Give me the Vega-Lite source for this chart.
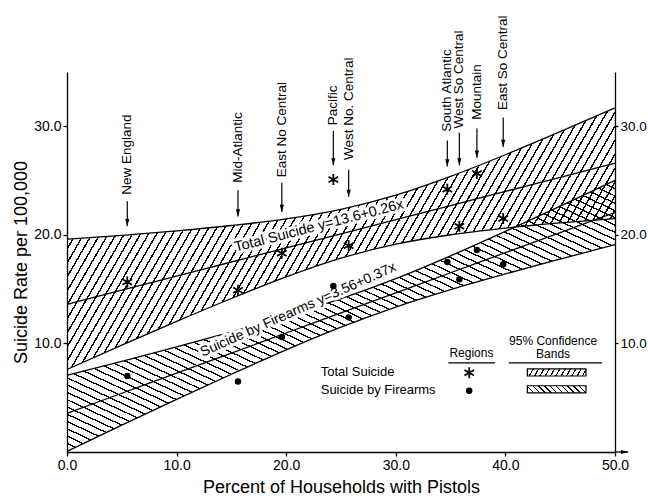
{
  "$schema": "https://vega.github.io/schema/vega-lite/v6.json",
  "width": 548,
  "height": 380,
  "autosize": {"type": "none"},
  "padding": {"left": 67, "top": 72, "right": 33, "bottom": 47},
  "background": "white",
  "config": {
    "view": {"stroke": null},
    "font": "Liberation Sans",
    "axis": {"grid": false, "domainColor": "#000", "tickColor": "#000", "labelColor": "#000", "titleColor": "#000", "labelFont": "Liberation Sans", "titleFont": "Liberation Sans", "labelFontSize": 14, "titleFontSize": 18, "titleFontWeight": "normal", "domainWidth": 1.3, "tickWidth": 1.3}
  },
  "resolve": {"axis": {"x": "independent", "y": "independent"}},
  "datasets": {
    "bands": [
      {"x": 0, "tlo": 7.6, "thi": 19.6, "tfit": 13.6, "flo": 0.06, "fhi": 7.06, "ffit": 3.56},
      {"x": 5, "tlo": 9.84, "thi": 19.96, "tfit": 14.9, "flo": 2.48, "fhi": 8.34, "ffit": 5.41},
      {"x": 10, "tlo": 12.03, "thi": 20.37, "tfit": 16.2, "flo": 4.84, "fhi": 9.68, "ffit": 7.26},
      {"x": 15, "tlo": 14.14, "thi": 20.86, "tfit": 17.5, "flo": 7.16, "fhi": 11.06, "ffit": 9.11},
      {"x": 20, "tlo": 16.13, "thi": 21.47, "tfit": 18.8, "flo": 9.41, "fhi": 12.51, "ffit": 10.96},
      {"x": 25, "tlo": 17.85, "thi": 22.35, "tfit": 20.1, "flo": 11.5, "fhi": 14.12, "ffit": 12.81},
      {"x": 30, "tlo": 19.14, "thi": 23.66, "tfit": 21.4, "flo": 13.35, "fhi": 15.97, "ffit": 14.66},
      {"x": 35, "tlo": 20.01, "thi": 25.39, "tfit": 22.7, "flo": 14.95, "fhi": 18.07, "ffit": 16.51},
      {"x": 40, "tlo": 20.62, "thi": 27.38, "tfit": 24.0, "flo": 16.4, "fhi": 20.32, "ffit": 18.36},
      {"x": 45, "tlo": 21.1, "thi": 29.5, "tfit": 25.3, "flo": 17.77, "fhi": 22.65, "ffit": 20.21},
      {"x": 50, "tlo": 21.5, "thi": 31.7, "tfit": 26.6, "flo": 19.1, "fhi": 25.02, "ffit": 22.06}
    ],
    "regions": [
      {"region": "New England", "x": 5.5, "ts": 15.66, "fs": 7.0, "ly": 23.7, "at": 23.1, "tip": 20.8},
      {"region": "Mid-Atlantic", "x": 15.6, "ts": 14.9, "fs": 6.5, "ly": 24.8, "at": 24.1, "tip": 21.7},
      {"region": "East No Central", "x": 19.6, "ts": 18.3, "fs": 10.6, "ly": 25.3, "at": 24.8, "tip": 22.1},
      {"region": "Pacific", "x": 24.3, "ts": 25.1, "fs": 15.3, "ly": 30.1, "at": 29.6, "tip": 26.4},
      {"region": "West No. Central", "x": 25.7, "ts": 19.0, "fs": 12.4, "ly": 26.9, "at": 26.0, "tip": 23.5},
      {"region": "South Atlantic", "x": 34.7, "ts": 24.2, "fs": 17.5, "ly": 29.5, "at": 28.7, "tip": 26.3},
      {"region": "West So Central", "x": 35.8, "ts": 20.8, "fs": 15.9, "ly": 29.8, "at": 29.4, "tip": 26.4},
      {"region": "Mountain", "x": 37.4, "ts": 25.65, "fs": 18.6, "ly": 30.6, "at": 29.8, "tip": 27.1},
      {"region": "East So Central", "x": 39.8, "ts": 21.5, "fs": 17.3, "ly": 31.5, "at": 30.8, "tip": 28.1}
    ],
    "fitlab": [
      {"s": "t", "label": "Total Suicide  y=13.6+0.26x", "x": 23.0, "y": 20.8},
      {"s": "f", "label": "Suicide by Firearms  y=3.56+0.37x", "x": 21.1, "y": 13.1}
    ],
    "legleft": [
      {"t": "Total Suicide", "x": 23.15, "y": 7.4},
      {"t": "Suicide by Firearms", "x": 23.15, "y": 5.7}
    ],
    "legcenter": [
      {"t": "Regions", "x": 36.9, "y": 9.1},
      {"t": "95% Confidence", "x": 44.35, "y": 10.25},
      {"t": "Bands", "x": 44.35, "y": 9.0}
    ],
    "legrule": [
      {"x": 34.8, "x2": 39.05, "y": 8.2},
      {"x": 40.3, "x2": 48.8, "y": 8.2}
    ],
    "legpts": [
      {"k": "t", "x": 36.7, "y": 7.3},
      {"k": "f", "x": 36.7, "y": 5.65}
    ],
    "swatch": [
      {"s": "t", "x": 42.0, "x2": 47.35, "y": 7.0, "y2": 7.65},
      {"s": "f", "x": 42.0, "x2": 47.35, "y": 5.45, "y2": 6.1}
    ],
    "xarrow": [
      {"x": 50, "x2": 51.2, "y": 0}
    ]
  },
  "layer": [
    {
      "data": {"name": "bands"},
      "mark": {"type": "area", "interpolate": "monotone", "stroke": null,
        "fill": {"gradient": "linear", "x1": 0, "y1": 0, "x2": 1.0967, "y2": 0.3024, "stops": [
{"offset":0,"color":"#000"},{"offset":0.0025,"color":"#000"},{"offset":0.0025,"color":"transparent"},{"offset":0.0125,"color":"transparent"},
{"offset":0.0125,"color":"#000"},{"offset":0.015,"color":"#000"},{"offset":0.015,"color":"transparent"},{"offset":0.025,"color":"transparent"},
{"offset":0.025,"color":"#000"},{"offset":0.0275,"color":"#000"},{"offset":0.0275,"color":"transparent"},{"offset":0.0375,"color":"transparent"},
{"offset":0.0375,"color":"#000"},{"offset":0.04,"color":"#000"},{"offset":0.04,"color":"transparent"},{"offset":0.05,"color":"transparent"},
{"offset":0.05,"color":"#000"},{"offset":0.0525,"color":"#000"},{"offset":0.0525,"color":"transparent"},{"offset":0.0625,"color":"transparent"},
{"offset":0.0625,"color":"#000"},{"offset":0.065,"color":"#000"},{"offset":0.065,"color":"transparent"},{"offset":0.075,"color":"transparent"},
{"offset":0.075,"color":"#000"},{"offset":0.0775,"color":"#000"},{"offset":0.0775,"color":"transparent"},{"offset":0.0875,"color":"transparent"},
{"offset":0.0875,"color":"#000"},{"offset":0.09,"color":"#000"},{"offset":0.09,"color":"transparent"},{"offset":0.1,"color":"transparent"},
{"offset":0.1,"color":"#000"},{"offset":0.1025,"color":"#000"},{"offset":0.1025,"color":"transparent"},{"offset":0.1125,"color":"transparent"},
{"offset":0.1125,"color":"#000"},{"offset":0.115,"color":"#000"},{"offset":0.115,"color":"transparent"},{"offset":0.125,"color":"transparent"},
{"offset":0.125,"color":"#000"},{"offset":0.1275,"color":"#000"},{"offset":0.1275,"color":"transparent"},{"offset":0.1375,"color":"transparent"},
{"offset":0.1375,"color":"#000"},{"offset":0.14,"color":"#000"},{"offset":0.14,"color":"transparent"},{"offset":0.15,"color":"transparent"},
{"offset":0.15,"color":"#000"},{"offset":0.1525,"color":"#000"},{"offset":0.1525,"color":"transparent"},{"offset":0.1625,"color":"transparent"},
{"offset":0.1625,"color":"#000"},{"offset":0.165,"color":"#000"},{"offset":0.165,"color":"transparent"},{"offset":0.175,"color":"transparent"},
{"offset":0.175,"color":"#000"},{"offset":0.1775,"color":"#000"},{"offset":0.1775,"color":"transparent"},{"offset":0.1875,"color":"transparent"},
{"offset":0.1875,"color":"#000"},{"offset":0.19,"color":"#000"},{"offset":0.19,"color":"transparent"},{"offset":0.2,"color":"transparent"},
{"offset":0.2,"color":"#000"},{"offset":0.2025,"color":"#000"},{"offset":0.2025,"color":"transparent"},{"offset":0.2125,"color":"transparent"},
{"offset":0.2125,"color":"#000"},{"offset":0.215,"color":"#000"},{"offset":0.215,"color":"transparent"},{"offset":0.225,"color":"transparent"},
{"offset":0.225,"color":"#000"},{"offset":0.2275,"color":"#000"},{"offset":0.2275,"color":"transparent"},{"offset":0.2375,"color":"transparent"},
{"offset":0.2375,"color":"#000"},{"offset":0.24,"color":"#000"},{"offset":0.24,"color":"transparent"},{"offset":0.25,"color":"transparent"},
{"offset":0.25,"color":"#000"},{"offset":0.2525,"color":"#000"},{"offset":0.2525,"color":"transparent"},{"offset":0.2625,"color":"transparent"},
{"offset":0.2625,"color":"#000"},{"offset":0.265,"color":"#000"},{"offset":0.265,"color":"transparent"},{"offset":0.275,"color":"transparent"},
{"offset":0.275,"color":"#000"},{"offset":0.2775,"color":"#000"},{"offset":0.2775,"color":"transparent"},{"offset":0.2875,"color":"transparent"},
{"offset":0.2875,"color":"#000"},{"offset":0.29,"color":"#000"},{"offset":0.29,"color":"transparent"},{"offset":0.3,"color":"transparent"},
{"offset":0.3,"color":"#000"},{"offset":0.3025,"color":"#000"},{"offset":0.3025,"color":"transparent"},{"offset":0.3125,"color":"transparent"},
{"offset":0.3125,"color":"#000"},{"offset":0.315,"color":"#000"},{"offset":0.315,"color":"transparent"},{"offset":0.325,"color":"transparent"},
{"offset":0.325,"color":"#000"},{"offset":0.3275,"color":"#000"},{"offset":0.3275,"color":"transparent"},{"offset":0.3375,"color":"transparent"},
{"offset":0.3375,"color":"#000"},{"offset":0.34,"color":"#000"},{"offset":0.34,"color":"transparent"},{"offset":0.35,"color":"transparent"},
{"offset":0.35,"color":"#000"},{"offset":0.3525,"color":"#000"},{"offset":0.3525,"color":"transparent"},{"offset":0.3625,"color":"transparent"},
{"offset":0.3625,"color":"#000"},{"offset":0.365,"color":"#000"},{"offset":0.365,"color":"transparent"},{"offset":0.375,"color":"transparent"},
{"offset":0.375,"color":"#000"},{"offset":0.3775,"color":"#000"},{"offset":0.3775,"color":"transparent"},{"offset":0.3875,"color":"transparent"},
{"offset":0.3875,"color":"#000"},{"offset":0.39,"color":"#000"},{"offset":0.39,"color":"transparent"},{"offset":0.4,"color":"transparent"},
{"offset":0.4,"color":"#000"},{"offset":0.4025,"color":"#000"},{"offset":0.4025,"color":"transparent"},{"offset":0.4125,"color":"transparent"},
{"offset":0.4125,"color":"#000"},{"offset":0.415,"color":"#000"},{"offset":0.415,"color":"transparent"},{"offset":0.425,"color":"transparent"},
{"offset":0.425,"color":"#000"},{"offset":0.4275,"color":"#000"},{"offset":0.4275,"color":"transparent"},{"offset":0.4375,"color":"transparent"},
{"offset":0.4375,"color":"#000"},{"offset":0.44,"color":"#000"},{"offset":0.44,"color":"transparent"},{"offset":0.45,"color":"transparent"},
{"offset":0.45,"color":"#000"},{"offset":0.4525,"color":"#000"},{"offset":0.4525,"color":"transparent"},{"offset":0.4625,"color":"transparent"},
{"offset":0.4625,"color":"#000"},{"offset":0.465,"color":"#000"},{"offset":0.465,"color":"transparent"},{"offset":0.475,"color":"transparent"},
{"offset":0.475,"color":"#000"},{"offset":0.4775,"color":"#000"},{"offset":0.4775,"color":"transparent"},{"offset":0.4875,"color":"transparent"},
{"offset":0.4875,"color":"#000"},{"offset":0.49,"color":"#000"},{"offset":0.49,"color":"transparent"},{"offset":0.5,"color":"transparent"},
{"offset":0.5,"color":"#000"},{"offset":0.5025,"color":"#000"},{"offset":0.5025,"color":"transparent"},{"offset":0.5125,"color":"transparent"},
{"offset":0.5125,"color":"#000"},{"offset":0.515,"color":"#000"},{"offset":0.515,"color":"transparent"},{"offset":0.525,"color":"transparent"},
{"offset":0.525,"color":"#000"},{"offset":0.5275,"color":"#000"},{"offset":0.5275,"color":"transparent"},{"offset":0.5375,"color":"transparent"},
{"offset":0.5375,"color":"#000"},{"offset":0.54,"color":"#000"},{"offset":0.54,"color":"transparent"},{"offset":0.55,"color":"transparent"},
{"offset":0.55,"color":"#000"},{"offset":0.5525,"color":"#000"},{"offset":0.5525,"color":"transparent"},{"offset":0.5625,"color":"transparent"},
{"offset":0.5625,"color":"#000"},{"offset":0.565,"color":"#000"},{"offset":0.565,"color":"transparent"},{"offset":0.575,"color":"transparent"},
{"offset":0.575,"color":"#000"},{"offset":0.5775,"color":"#000"},{"offset":0.5775,"color":"transparent"},{"offset":0.5875,"color":"transparent"},
{"offset":0.5875,"color":"#000"},{"offset":0.59,"color":"#000"},{"offset":0.59,"color":"transparent"},{"offset":0.6,"color":"transparent"},
{"offset":0.6,"color":"#000"},{"offset":0.6025,"color":"#000"},{"offset":0.6025,"color":"transparent"},{"offset":0.6125,"color":"transparent"},
{"offset":0.6125,"color":"#000"},{"offset":0.615,"color":"#000"},{"offset":0.615,"color":"transparent"},{"offset":0.625,"color":"transparent"},
{"offset":0.625,"color":"#000"},{"offset":0.6275,"color":"#000"},{"offset":0.6275,"color":"transparent"},{"offset":0.6375,"color":"transparent"},
{"offset":0.6375,"color":"#000"},{"offset":0.64,"color":"#000"},{"offset":0.64,"color":"transparent"},{"offset":0.65,"color":"transparent"},
{"offset":0.65,"color":"#000"},{"offset":0.6525,"color":"#000"},{"offset":0.6525,"color":"transparent"},{"offset":0.6625,"color":"transparent"},
{"offset":0.6625,"color":"#000"},{"offset":0.665,"color":"#000"},{"offset":0.665,"color":"transparent"},{"offset":0.675,"color":"transparent"},
{"offset":0.675,"color":"#000"},{"offset":0.6775,"color":"#000"},{"offset":0.6775,"color":"transparent"},{"offset":0.6875,"color":"transparent"},
{"offset":0.6875,"color":"#000"},{"offset":0.69,"color":"#000"},{"offset":0.69,"color":"transparent"},{"offset":0.7,"color":"transparent"},
{"offset":0.7,"color":"#000"},{"offset":0.7025,"color":"#000"},{"offset":0.7025,"color":"transparent"},{"offset":0.7125,"color":"transparent"},
{"offset":0.7125,"color":"#000"},{"offset":0.715,"color":"#000"},{"offset":0.715,"color":"transparent"},{"offset":0.725,"color":"transparent"},
{"offset":0.725,"color":"#000"},{"offset":0.7275,"color":"#000"},{"offset":0.7275,"color":"transparent"},{"offset":0.7375,"color":"transparent"},
{"offset":0.7375,"color":"#000"},{"offset":0.74,"color":"#000"},{"offset":0.74,"color":"transparent"},{"offset":0.75,"color":"transparent"},
{"offset":0.75,"color":"#000"},{"offset":0.7525,"color":"#000"},{"offset":0.7525,"color":"transparent"},{"offset":0.7625,"color":"transparent"},
{"offset":0.7625,"color":"#000"},{"offset":0.765,"color":"#000"},{"offset":0.765,"color":"transparent"},{"offset":0.775,"color":"transparent"},
{"offset":0.775,"color":"#000"},{"offset":0.7775,"color":"#000"},{"offset":0.7775,"color":"transparent"},{"offset":0.7875,"color":"transparent"},
{"offset":0.7875,"color":"#000"},{"offset":0.79,"color":"#000"},{"offset":0.79,"color":"transparent"},{"offset":0.8,"color":"transparent"},
{"offset":0.8,"color":"#000"},{"offset":0.8025,"color":"#000"},{"offset":0.8025,"color":"transparent"},{"offset":0.8125,"color":"transparent"},
{"offset":0.8125,"color":"#000"},{"offset":0.815,"color":"#000"},{"offset":0.815,"color":"transparent"},{"offset":0.825,"color":"transparent"},
{"offset":0.825,"color":"#000"},{"offset":0.8275,"color":"#000"},{"offset":0.8275,"color":"transparent"},{"offset":0.8375,"color":"transparent"},
{"offset":0.8375,"color":"#000"},{"offset":0.84,"color":"#000"},{"offset":0.84,"color":"transparent"},{"offset":0.85,"color":"transparent"},
{"offset":0.85,"color":"#000"},{"offset":0.8525,"color":"#000"},{"offset":0.8525,"color":"transparent"},{"offset":0.8625,"color":"transparent"},
{"offset":0.8625,"color":"#000"},{"offset":0.865,"color":"#000"},{"offset":0.865,"color":"transparent"},{"offset":0.875,"color":"transparent"},
{"offset":0.875,"color":"#000"},{"offset":0.8775,"color":"#000"},{"offset":0.8775,"color":"transparent"},{"offset":0.8875,"color":"transparent"},
{"offset":0.8875,"color":"#000"},{"offset":0.89,"color":"#000"},{"offset":0.89,"color":"transparent"},{"offset":0.9,"color":"transparent"},
{"offset":0.9,"color":"#000"},{"offset":0.9025,"color":"#000"},{"offset":0.9025,"color":"transparent"},{"offset":0.9125,"color":"transparent"},
{"offset":0.9125,"color":"#000"},{"offset":0.915,"color":"#000"},{"offset":0.915,"color":"transparent"},{"offset":0.925,"color":"transparent"},
{"offset":0.925,"color":"#000"},{"offset":0.9275,"color":"#000"},{"offset":0.9275,"color":"transparent"},{"offset":0.9375,"color":"transparent"},
{"offset":0.9375,"color":"#000"},{"offset":0.94,"color":"#000"},{"offset":0.94,"color":"transparent"},{"offset":0.95,"color":"transparent"},
{"offset":0.95,"color":"#000"},{"offset":0.9525,"color":"#000"},{"offset":0.9525,"color":"transparent"},{"offset":0.9625,"color":"transparent"},
{"offset":0.9625,"color":"#000"},{"offset":0.965,"color":"#000"},{"offset":0.965,"color":"transparent"},{"offset":0.975,"color":"transparent"},
{"offset":0.975,"color":"#000"},{"offset":0.9775,"color":"#000"},{"offset":0.9775,"color":"transparent"},{"offset":0.9875,"color":"transparent"},
{"offset":0.9875,"color":"#000"},{"offset":0.99,"color":"#000"},{"offset":0.99,"color":"transparent"},{"offset":1,"color":"transparent"}
        ]}},
      "encoding": {
        "x": {"field": "x", "type": "quantitative", "scale": {"domain": [0, 50], "nice": false, "zero": false},
          "axis": {"orient": "bottom", "values": [0, 10, 20, 30, 40, 50], "format": ".1f", "title": "Percent of Households with Pistols", "tickSize": 4, "labelPadding": 2, "titlePadding": 6, "labelFlush": false, "labelOverlap": false}},
        "y": {"field": "tlo", "type": "quantitative", "scale": {"domain": [0, 35], "nice": false, "zero": false},
          "axis": {"orient": "left", "values": [10, 20, 30], "format": ".1f", "title": "Suicide Rate per 100,000", "tickSize": 4, "labelPadding": 2, "titlePadding": 3}},
        "y2": {"field": "thi"}
      }
    },
    {
      "data": {"name": "bands"},
      "mark": {"type": "area", "interpolate": "monotone", "stroke": null,
        "fill": {"gradient": "linear", "x1": 0, "y1": 1, "x2": 1.074, "y2": -0.139, "stops": [
{"offset":0,"color":"#000"},{"offset":0.0025,"color":"#000"},{"offset":0.0025,"color":"transparent"},{"offset":0.0125,"color":"transparent"},
{"offset":0.0125,"color":"#000"},{"offset":0.015,"color":"#000"},{"offset":0.015,"color":"transparent"},{"offset":0.025,"color":"transparent"},
{"offset":0.025,"color":"#000"},{"offset":0.0275,"color":"#000"},{"offset":0.0275,"color":"transparent"},{"offset":0.0375,"color":"transparent"},
{"offset":0.0375,"color":"#000"},{"offset":0.04,"color":"#000"},{"offset":0.04,"color":"transparent"},{"offset":0.05,"color":"transparent"},
{"offset":0.05,"color":"#000"},{"offset":0.0525,"color":"#000"},{"offset":0.0525,"color":"transparent"},{"offset":0.0625,"color":"transparent"},
{"offset":0.0625,"color":"#000"},{"offset":0.065,"color":"#000"},{"offset":0.065,"color":"transparent"},{"offset":0.075,"color":"transparent"},
{"offset":0.075,"color":"#000"},{"offset":0.0775,"color":"#000"},{"offset":0.0775,"color":"transparent"},{"offset":0.0875,"color":"transparent"},
{"offset":0.0875,"color":"#000"},{"offset":0.09,"color":"#000"},{"offset":0.09,"color":"transparent"},{"offset":0.1,"color":"transparent"},
{"offset":0.1,"color":"#000"},{"offset":0.1025,"color":"#000"},{"offset":0.1025,"color":"transparent"},{"offset":0.1125,"color":"transparent"},
{"offset":0.1125,"color":"#000"},{"offset":0.115,"color":"#000"},{"offset":0.115,"color":"transparent"},{"offset":0.125,"color":"transparent"},
{"offset":0.125,"color":"#000"},{"offset":0.1275,"color":"#000"},{"offset":0.1275,"color":"transparent"},{"offset":0.1375,"color":"transparent"},
{"offset":0.1375,"color":"#000"},{"offset":0.14,"color":"#000"},{"offset":0.14,"color":"transparent"},{"offset":0.15,"color":"transparent"},
{"offset":0.15,"color":"#000"},{"offset":0.1525,"color":"#000"},{"offset":0.1525,"color":"transparent"},{"offset":0.1625,"color":"transparent"},
{"offset":0.1625,"color":"#000"},{"offset":0.165,"color":"#000"},{"offset":0.165,"color":"transparent"},{"offset":0.175,"color":"transparent"},
{"offset":0.175,"color":"#000"},{"offset":0.1775,"color":"#000"},{"offset":0.1775,"color":"transparent"},{"offset":0.1875,"color":"transparent"},
{"offset":0.1875,"color":"#000"},{"offset":0.19,"color":"#000"},{"offset":0.19,"color":"transparent"},{"offset":0.2,"color":"transparent"},
{"offset":0.2,"color":"#000"},{"offset":0.2025,"color":"#000"},{"offset":0.2025,"color":"transparent"},{"offset":0.2125,"color":"transparent"},
{"offset":0.2125,"color":"#000"},{"offset":0.215,"color":"#000"},{"offset":0.215,"color":"transparent"},{"offset":0.225,"color":"transparent"},
{"offset":0.225,"color":"#000"},{"offset":0.2275,"color":"#000"},{"offset":0.2275,"color":"transparent"},{"offset":0.2375,"color":"transparent"},
{"offset":0.2375,"color":"#000"},{"offset":0.24,"color":"#000"},{"offset":0.24,"color":"transparent"},{"offset":0.25,"color":"transparent"},
{"offset":0.25,"color":"#000"},{"offset":0.2525,"color":"#000"},{"offset":0.2525,"color":"transparent"},{"offset":0.2625,"color":"transparent"},
{"offset":0.2625,"color":"#000"},{"offset":0.265,"color":"#000"},{"offset":0.265,"color":"transparent"},{"offset":0.275,"color":"transparent"},
{"offset":0.275,"color":"#000"},{"offset":0.2775,"color":"#000"},{"offset":0.2775,"color":"transparent"},{"offset":0.2875,"color":"transparent"},
{"offset":0.2875,"color":"#000"},{"offset":0.29,"color":"#000"},{"offset":0.29,"color":"transparent"},{"offset":0.3,"color":"transparent"},
{"offset":0.3,"color":"#000"},{"offset":0.3025,"color":"#000"},{"offset":0.3025,"color":"transparent"},{"offset":0.3125,"color":"transparent"},
{"offset":0.3125,"color":"#000"},{"offset":0.315,"color":"#000"},{"offset":0.315,"color":"transparent"},{"offset":0.325,"color":"transparent"},
{"offset":0.325,"color":"#000"},{"offset":0.3275,"color":"#000"},{"offset":0.3275,"color":"transparent"},{"offset":0.3375,"color":"transparent"},
{"offset":0.3375,"color":"#000"},{"offset":0.34,"color":"#000"},{"offset":0.34,"color":"transparent"},{"offset":0.35,"color":"transparent"},
{"offset":0.35,"color":"#000"},{"offset":0.3525,"color":"#000"},{"offset":0.3525,"color":"transparent"},{"offset":0.3625,"color":"transparent"},
{"offset":0.3625,"color":"#000"},{"offset":0.365,"color":"#000"},{"offset":0.365,"color":"transparent"},{"offset":0.375,"color":"transparent"},
{"offset":0.375,"color":"#000"},{"offset":0.3775,"color":"#000"},{"offset":0.3775,"color":"transparent"},{"offset":0.3875,"color":"transparent"},
{"offset":0.3875,"color":"#000"},{"offset":0.39,"color":"#000"},{"offset":0.39,"color":"transparent"},{"offset":0.4,"color":"transparent"},
{"offset":0.4,"color":"#000"},{"offset":0.4025,"color":"#000"},{"offset":0.4025,"color":"transparent"},{"offset":0.4125,"color":"transparent"},
{"offset":0.4125,"color":"#000"},{"offset":0.415,"color":"#000"},{"offset":0.415,"color":"transparent"},{"offset":0.425,"color":"transparent"},
{"offset":0.425,"color":"#000"},{"offset":0.4275,"color":"#000"},{"offset":0.4275,"color":"transparent"},{"offset":0.4375,"color":"transparent"},
{"offset":0.4375,"color":"#000"},{"offset":0.44,"color":"#000"},{"offset":0.44,"color":"transparent"},{"offset":0.45,"color":"transparent"},
{"offset":0.45,"color":"#000"},{"offset":0.4525,"color":"#000"},{"offset":0.4525,"color":"transparent"},{"offset":0.4625,"color":"transparent"},
{"offset":0.4625,"color":"#000"},{"offset":0.465,"color":"#000"},{"offset":0.465,"color":"transparent"},{"offset":0.475,"color":"transparent"},
{"offset":0.475,"color":"#000"},{"offset":0.4775,"color":"#000"},{"offset":0.4775,"color":"transparent"},{"offset":0.4875,"color":"transparent"},
{"offset":0.4875,"color":"#000"},{"offset":0.49,"color":"#000"},{"offset":0.49,"color":"transparent"},{"offset":0.5,"color":"transparent"},
{"offset":0.5,"color":"#000"},{"offset":0.5025,"color":"#000"},{"offset":0.5025,"color":"transparent"},{"offset":0.5125,"color":"transparent"},
{"offset":0.5125,"color":"#000"},{"offset":0.515,"color":"#000"},{"offset":0.515,"color":"transparent"},{"offset":0.525,"color":"transparent"},
{"offset":0.525,"color":"#000"},{"offset":0.5275,"color":"#000"},{"offset":0.5275,"color":"transparent"},{"offset":0.5375,"color":"transparent"},
{"offset":0.5375,"color":"#000"},{"offset":0.54,"color":"#000"},{"offset":0.54,"color":"transparent"},{"offset":0.55,"color":"transparent"},
{"offset":0.55,"color":"#000"},{"offset":0.5525,"color":"#000"},{"offset":0.5525,"color":"transparent"},{"offset":0.5625,"color":"transparent"},
{"offset":0.5625,"color":"#000"},{"offset":0.565,"color":"#000"},{"offset":0.565,"color":"transparent"},{"offset":0.575,"color":"transparent"},
{"offset":0.575,"color":"#000"},{"offset":0.5775,"color":"#000"},{"offset":0.5775,"color":"transparent"},{"offset":0.5875,"color":"transparent"},
{"offset":0.5875,"color":"#000"},{"offset":0.59,"color":"#000"},{"offset":0.59,"color":"transparent"},{"offset":0.6,"color":"transparent"},
{"offset":0.6,"color":"#000"},{"offset":0.6025,"color":"#000"},{"offset":0.6025,"color":"transparent"},{"offset":0.6125,"color":"transparent"},
{"offset":0.6125,"color":"#000"},{"offset":0.615,"color":"#000"},{"offset":0.615,"color":"transparent"},{"offset":0.625,"color":"transparent"},
{"offset":0.625,"color":"#000"},{"offset":0.6275,"color":"#000"},{"offset":0.6275,"color":"transparent"},{"offset":0.6375,"color":"transparent"},
{"offset":0.6375,"color":"#000"},{"offset":0.64,"color":"#000"},{"offset":0.64,"color":"transparent"},{"offset":0.65,"color":"transparent"},
{"offset":0.65,"color":"#000"},{"offset":0.6525,"color":"#000"},{"offset":0.6525,"color":"transparent"},{"offset":0.6625,"color":"transparent"},
{"offset":0.6625,"color":"#000"},{"offset":0.665,"color":"#000"},{"offset":0.665,"color":"transparent"},{"offset":0.675,"color":"transparent"},
{"offset":0.675,"color":"#000"},{"offset":0.6775,"color":"#000"},{"offset":0.6775,"color":"transparent"},{"offset":0.6875,"color":"transparent"},
{"offset":0.6875,"color":"#000"},{"offset":0.69,"color":"#000"},{"offset":0.69,"color":"transparent"},{"offset":0.7,"color":"transparent"},
{"offset":0.7,"color":"#000"},{"offset":0.7025,"color":"#000"},{"offset":0.7025,"color":"transparent"},{"offset":0.7125,"color":"transparent"},
{"offset":0.7125,"color":"#000"},{"offset":0.715,"color":"#000"},{"offset":0.715,"color":"transparent"},{"offset":0.725,"color":"transparent"},
{"offset":0.725,"color":"#000"},{"offset":0.7275,"color":"#000"},{"offset":0.7275,"color":"transparent"},{"offset":0.7375,"color":"transparent"},
{"offset":0.7375,"color":"#000"},{"offset":0.74,"color":"#000"},{"offset":0.74,"color":"transparent"},{"offset":0.75,"color":"transparent"},
{"offset":0.75,"color":"#000"},{"offset":0.7525,"color":"#000"},{"offset":0.7525,"color":"transparent"},{"offset":0.7625,"color":"transparent"},
{"offset":0.7625,"color":"#000"},{"offset":0.765,"color":"#000"},{"offset":0.765,"color":"transparent"},{"offset":0.775,"color":"transparent"},
{"offset":0.775,"color":"#000"},{"offset":0.7775,"color":"#000"},{"offset":0.7775,"color":"transparent"},{"offset":0.7875,"color":"transparent"},
{"offset":0.7875,"color":"#000"},{"offset":0.79,"color":"#000"},{"offset":0.79,"color":"transparent"},{"offset":0.8,"color":"transparent"},
{"offset":0.8,"color":"#000"},{"offset":0.8025,"color":"#000"},{"offset":0.8025,"color":"transparent"},{"offset":0.8125,"color":"transparent"},
{"offset":0.8125,"color":"#000"},{"offset":0.815,"color":"#000"},{"offset":0.815,"color":"transparent"},{"offset":0.825,"color":"transparent"},
{"offset":0.825,"color":"#000"},{"offset":0.8275,"color":"#000"},{"offset":0.8275,"color":"transparent"},{"offset":0.8375,"color":"transparent"},
{"offset":0.8375,"color":"#000"},{"offset":0.84,"color":"#000"},{"offset":0.84,"color":"transparent"},{"offset":0.85,"color":"transparent"},
{"offset":0.85,"color":"#000"},{"offset":0.8525,"color":"#000"},{"offset":0.8525,"color":"transparent"},{"offset":0.8625,"color":"transparent"},
{"offset":0.8625,"color":"#000"},{"offset":0.865,"color":"#000"},{"offset":0.865,"color":"transparent"},{"offset":0.875,"color":"transparent"},
{"offset":0.875,"color":"#000"},{"offset":0.8775,"color":"#000"},{"offset":0.8775,"color":"transparent"},{"offset":0.8875,"color":"transparent"},
{"offset":0.8875,"color":"#000"},{"offset":0.89,"color":"#000"},{"offset":0.89,"color":"transparent"},{"offset":0.9,"color":"transparent"},
{"offset":0.9,"color":"#000"},{"offset":0.9025,"color":"#000"},{"offset":0.9025,"color":"transparent"},{"offset":0.9125,"color":"transparent"},
{"offset":0.9125,"color":"#000"},{"offset":0.915,"color":"#000"},{"offset":0.915,"color":"transparent"},{"offset":0.925,"color":"transparent"}
        ]}},
      "encoding": {
        "x": {"field": "x", "type": "quantitative", "axis": null},
        "y": {"field": "flo", "type": "quantitative",
          "axis": {"orient": "right", "values": [10, 20, 30], "format": ".1f", "title": null, "tickSize": 3, "labelPadding": 2, "labelFontSize": 13.5}},
        "y2": {"field": "fhi"}
      }
    },
    {
      "data": {"name": "bands"},
      "transform": [{"fold": ["thi", "tlo", "fhi", "flo", "tfit", "ffit"], "as": ["k", "v"]}],
      "mark": {"type": "line", "interpolate": "monotone", "color": "#000", "strokeWidth": 1.3},
      "encoding": {
        "x": {"field": "x", "type": "quantitative", "axis": null},
        "y": {"field": "v", "type": "quantitative", "axis": null},
        "detail": {"field": "k"}
      }
    },
    {
      "data": {"name": "xarrow"},
      "mark": {"type": "rule", "color": "#000", "strokeWidth": 1.3},
      "encoding": {
        "x": {"field": "x", "type": "quantitative", "axis": null},
        "x2": {"field": "x2"},
        "y": {"field": "y", "type": "quantitative", "axis": null}
      }
    },
    {
      "data": {"name": "xarrow"},
      "mark": {"type": "point", "shape": "M-2.4,-0.7L-2.4,0.7L0,0Z", "size": 36, "filled": true, "color": "#000", "opacity": 1},
      "encoding": {
        "x": {"field": "x2", "type": "quantitative", "axis": null},
        "y": {"field": "y", "type": "quantitative", "axis": null}
      }
    },
    {
      "data": {"name": "fitlab"},
      "transform": [{"filter": "datum.s == 't'"}],
      "mark": {"type": "text", "angle": 345.5, "fontSize": 14.5, "align": "center", "baseline": "middle", "fill": "#fff", "stroke": "#fff", "strokeWidth": 6, "strokeJoin": "round"},
      "encoding": {
        "x": {"field": "x", "type": "quantitative", "axis": null},
        "y": {"field": "y", "type": "quantitative", "axis": null},
        "text": {"field": "label"}
      }
    },
    {
      "data": {"name": "fitlab"},
      "transform": [{"filter": "datum.s == 't'"}],
      "mark": {"type": "text", "angle": 345.5, "fontSize": 14.5, "align": "center", "baseline": "middle", "fill": "#000"},
      "encoding": {
        "x": {"field": "x", "type": "quantitative", "axis": null},
        "y": {"field": "y", "type": "quantitative", "axis": null},
        "text": {"field": "label"}
      }
    },
    {
      "data": {"name": "fitlab"},
      "transform": [{"filter": "datum.s == 'f'"}],
      "mark": {"type": "text", "angle": 336, "fontSize": 14, "align": "center", "baseline": "middle", "fill": "#fff", "stroke": "#fff", "strokeWidth": 6, "strokeJoin": "round"},
      "encoding": {
        "x": {"field": "x", "type": "quantitative", "axis": null},
        "y": {"field": "y", "type": "quantitative", "axis": null},
        "text": {"field": "label"}
      }
    },
    {
      "data": {"name": "fitlab"},
      "transform": [{"filter": "datum.s == 'f'"}],
      "mark": {"type": "text", "angle": 336, "fontSize": 14, "align": "center", "baseline": "middle", "fill": "#000"},
      "encoding": {
        "x": {"field": "x", "type": "quantitative", "axis": null},
        "y": {"field": "y", "type": "quantitative", "axis": null},
        "text": {"field": "label"}
      }
    },
    {
      "data": {"name": "regions"},
      "mark": {"type": "point", "shape": "M0,-1L0,1M-0.87,-0.5L0.87,0.5M-0.87,0.5L0.87,-0.5", "size": 121, "filled": false, "color": "#000", "strokeWidth": 1.8, "opacity": 1},
      "encoding": {
        "x": {"field": "x", "type": "quantitative", "axis": null},
        "y": {"field": "ts", "type": "quantitative", "axis": null}
      }
    },
    {
      "data": {"name": "regions"},
      "mark": {"type": "circle", "size": 42, "color": "#000", "opacity": 1},
      "encoding": {
        "x": {"field": "x", "type": "quantitative", "axis": null},
        "y": {"field": "fs", "type": "quantitative", "axis": null}
      }
    },
    {
      "data": {"name": "regions"},
      "mark": {"type": "rule", "color": "#000", "strokeWidth": 1.2},
      "encoding": {
        "x": {"field": "x", "type": "quantitative", "axis": null},
        "y": {"field": "at", "type": "quantitative", "axis": null},
        "y2": {"field": "tip"}
      }
    },
    {
      "data": {"name": "regions"},
      "mark": {"type": "point", "shape": "M-0.7,-2.4L0.7,-2.4L0,0Z", "size": 36, "filled": true, "color": "#000", "opacity": 1},
      "encoding": {
        "x": {"field": "x", "type": "quantitative", "axis": null},
        "y": {"field": "tip", "type": "quantitative", "axis": null}
      }
    },
    {
      "data": {"name": "regions"},
      "mark": {"type": "text", "angle": 270, "align": "left", "baseline": "middle", "fontSize": 13.5, "color": "#000"},
      "encoding": {
        "x": {"field": "x", "type": "quantitative", "axis": null},
        "y": {"field": "ly", "type": "quantitative", "axis": null},
        "text": {"field": "region"}
      }
    },
    {
      "data": {"name": "legleft"},
      "mark": {"type": "text", "align": "left", "baseline": "middle", "fontSize": 13, "color": "#000"},
      "encoding": {
        "x": {"field": "x", "type": "quantitative", "axis": null},
        "y": {"field": "y", "type": "quantitative", "axis": null},
        "text": {"field": "t"}
      }
    },
    {
      "data": {"name": "legcenter"},
      "mark": {"type": "text", "align": "center", "baseline": "middle", "fontSize": 12, "color": "#000"},
      "encoding": {
        "x": {"field": "x", "type": "quantitative", "axis": null},
        "y": {"field": "y", "type": "quantitative", "axis": null},
        "text": {"field": "t"}
      }
    },
    {
      "data": {"name": "legrule"},
      "mark": {"type": "rule", "color": "#000", "strokeWidth": 1.2},
      "encoding": {
        "x": {"field": "x", "type": "quantitative", "axis": null},
        "x2": {"field": "x2"},
        "y": {"field": "y", "type": "quantitative", "axis": null}
      }
    },
    {
      "data": {"name": "legpts"},
      "transform": [{"filter": "datum.k == 't'"}],
      "mark": {"type": "point", "shape": "M0,-1L0,1M-0.87,-0.5L0.87,0.5M-0.87,0.5L0.87,-0.5", "size": 121, "filled": false, "color": "#000", "strokeWidth": 1.8, "opacity": 1},
      "encoding": {
        "x": {"field": "x", "type": "quantitative", "axis": null},
        "y": {"field": "y", "type": "quantitative", "axis": null}
      }
    },
    {
      "data": {"name": "legpts"},
      "transform": [{"filter": "datum.k == 'f'"}],
      "mark": {"type": "circle", "size": 42, "color": "#000", "opacity": 1},
      "encoding": {
        "x": {"field": "x", "type": "quantitative", "axis": null},
        "y": {"field": "y", "type": "quantitative", "axis": null}
      }
    },
    {
      "data": {"name": "swatch"},
      "transform": [{"filter": "datum.s == 't'"}],
      "mark": {"type": "rect", "stroke": "#000", "strokeWidth": 1.2,
        "fill": {"gradient": "linear", "x1": 0, "y1": 0, "x2": 1.803, "y2": 0.1244, "stops": [
{"offset":0,"color":"#000"},{"offset":0.0125,"color":"#000"},{"offset":0.0125,"color":"transparent"},{"offset":0.05,"color":"transparent"},
{"offset":0.05,"color":"#000"},{"offset":0.0625,"color":"#000"},{"offset":0.0625,"color":"transparent"},{"offset":0.1,"color":"transparent"},
{"offset":0.1,"color":"#000"},{"offset":0.1125,"color":"#000"},{"offset":0.1125,"color":"transparent"},{"offset":0.15,"color":"transparent"},
{"offset":0.15,"color":"#000"},{"offset":0.1625,"color":"#000"},{"offset":0.1625,"color":"transparent"},{"offset":0.2,"color":"transparent"},
{"offset":0.2,"color":"#000"},{"offset":0.2125,"color":"#000"},{"offset":0.2125,"color":"transparent"},{"offset":0.25,"color":"transparent"},
{"offset":0.25,"color":"#000"},{"offset":0.2625,"color":"#000"},{"offset":0.2625,"color":"transparent"},{"offset":0.3,"color":"transparent"},
{"offset":0.3,"color":"#000"},{"offset":0.3125,"color":"#000"},{"offset":0.3125,"color":"transparent"},{"offset":0.35,"color":"transparent"},
{"offset":0.35,"color":"#000"},{"offset":0.3625,"color":"#000"},{"offset":0.3625,"color":"transparent"},{"offset":0.4,"color":"transparent"},
{"offset":0.4,"color":"#000"},{"offset":0.4125,"color":"#000"},{"offset":0.4125,"color":"transparent"},{"offset":0.45,"color":"transparent"},
{"offset":0.45,"color":"#000"},{"offset":0.4625,"color":"#000"},{"offset":0.4625,"color":"transparent"},{"offset":0.5,"color":"transparent"},
{"offset":0.5,"color":"#000"},{"offset":0.5125,"color":"#000"},{"offset":0.5125,"color":"transparent"},{"offset":0.55,"color":"transparent"},
{"offset":0.55,"color":"#000"},{"offset":0.5625,"color":"#000"},{"offset":0.5625,"color":"transparent"},{"offset":0.6,"color":"transparent"},
{"offset":0.6,"color":"#000"},{"offset":0.6125,"color":"#000"},{"offset":0.6125,"color":"transparent"}
        ]}},
      "encoding": {
        "x": {"field": "x", "type": "quantitative", "axis": null},
        "x2": {"field": "x2"},
        "y": {"field": "y", "type": "quantitative", "axis": null},
        "y2": {"field": "y2"}
      }
    },
    {
      "data": {"name": "swatch"},
      "transform": [{"filter": "datum.s == 'f'"}],
      "mark": {"type": "rect", "stroke": "#000", "strokeWidth": 1.2,
        "fill": {"gradient": "linear", "x1": 0, "y1": 1, "x2": 1.95, "y2": 0.767, "stops": [
{"offset":0,"color":"#000"},{"offset":0.0125,"color":"#000"},{"offset":0.0125,"color":"transparent"},{"offset":0.05,"color":"transparent"},
{"offset":0.05,"color":"#000"},{"offset":0.0625,"color":"#000"},{"offset":0.0625,"color":"transparent"},{"offset":0.1,"color":"transparent"},
{"offset":0.1,"color":"#000"},{"offset":0.1125,"color":"#000"},{"offset":0.1125,"color":"transparent"},{"offset":0.15,"color":"transparent"},
{"offset":0.15,"color":"#000"},{"offset":0.1625,"color":"#000"},{"offset":0.1625,"color":"transparent"},{"offset":0.2,"color":"transparent"},
{"offset":0.2,"color":"#000"},{"offset":0.2125,"color":"#000"},{"offset":0.2125,"color":"transparent"},{"offset":0.25,"color":"transparent"},
{"offset":0.25,"color":"#000"},{"offset":0.2625,"color":"#000"},{"offset":0.2625,"color":"transparent"},{"offset":0.3,"color":"transparent"},
{"offset":0.3,"color":"#000"},{"offset":0.3125,"color":"#000"},{"offset":0.3125,"color":"transparent"},{"offset":0.35,"color":"transparent"},
{"offset":0.35,"color":"#000"},{"offset":0.3625,"color":"#000"},{"offset":0.3625,"color":"transparent"},{"offset":0.4,"color":"transparent"},
{"offset":0.4,"color":"#000"},{"offset":0.4125,"color":"#000"},{"offset":0.4125,"color":"transparent"},{"offset":0.45,"color":"transparent"},
{"offset":0.45,"color":"#000"},{"offset":0.4625,"color":"#000"},{"offset":0.4625,"color":"transparent"},{"offset":0.5,"color":"transparent"},
{"offset":0.5,"color":"#000"},{"offset":0.5125,"color":"#000"},{"offset":0.5125,"color":"transparent"},{"offset":0.55,"color":"transparent"},
{"offset":0.55,"color":"#000"},{"offset":0.5625,"color":"#000"},{"offset":0.5625,"color":"transparent"},{"offset":0.6,"color":"transparent"},
{"offset":0.6,"color":"#000"},{"offset":0.6125,"color":"#000"},{"offset":0.6125,"color":"transparent"}
        ]}},
      "encoding": {
        "x": {"field": "x", "type": "quantitative", "axis": null},
        "x2": {"field": "x2"},
        "y": {"field": "y", "type": "quantitative", "axis": null},
        "y2": {"field": "y2"}
      }
    }
  ]
}
